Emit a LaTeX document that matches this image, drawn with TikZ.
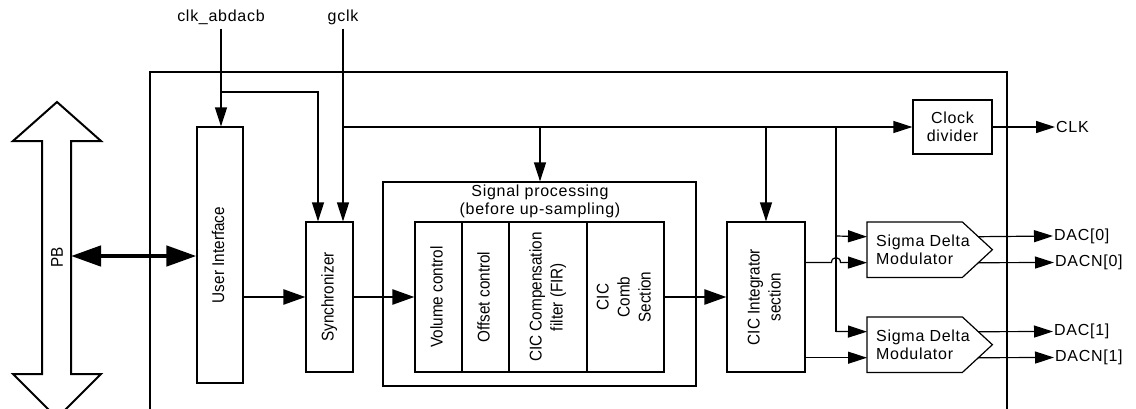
\documentclass[tikz,border=0pt]{standalone}
\usepackage{fontspec}
\setmainfont{Liberation Sans}
\newfontfamily\lspfont[LetterSpace=4.5]{Liberation Sans}
\newfontfamily\nrwfont[FakeStretch=0.9]{Liberation Sans}
\usetikzlibrary{arrows.meta}
\newcommand\vlab[1]{\rotatebox{90}{\begin{tabular}{@{}c@{}}#1\end{tabular}}}
\begin{document}
\begin{tikzpicture}[x=1pt,y=-1pt,
  thinln/.style={line width=1.2pt},
  arr/.style={thinln,-{Triangle[length=19pt,width=12pt]}},
  thkarr/.style={line width=2.5pt,-{Triangle[length=22pt,width=15pt]}},
  blk/.style={draw,line width=1.2pt,inner sep=0pt,font=\nrwfont\fontsize{17}{21}\selectfont},
  hlab/.style={font=\lspfont\fontsize{16}{18}\selectfont,align=center,inner sep=1pt},
  outlab/.style={hlab,anchor=west,inner sep=1pt},
]
\useasboundingbox (0,0) rectangle (1136,408);

% PB bus arrow
\draw[line width=2pt,line join=miter] (57,102) -- (101,141) -- (71,141) -- (71,374) -- (101,374) -- (57,418) -- (13,374) -- (42,374) -- (42,141) -- (13,141) -- cycle;
\node[font=\nrwfont\fontsize{17}{21}\selectfont,rotate=90] (pb) at (57,257) {PB};
\coordinate (pbr) at (71,256);

% outer frame
\draw[line width=2pt] (150,412) -- (150,72) -- (1007,72) -- (1007,412);

% top labels
\node[hlab] (clkab) at (221,17) {clk\_abdacb};
\node[hlab] (gclk) at (343,17) {gclk};

% blocks
\node[blk,minimum width=46pt,minimum height=256pt] (ui) at (220,255) {\vlab{User Interface}};
\node[blk,minimum width=47pt,minimum height=150pt] (sync) at (329.5,297) {\vlab{Synchronizer}};
\node[blk,minimum width=313pt,minimum height=204pt] (sp) at (539.5,284) {};
\node[hlab] (sptitle) at (540,201) {Signal processing\\(before up-sampling)};
\node[blk,minimum width=47pt,minimum height=150pt] (vol) at (438.5,297) {\vlab{Volume control}};
\node[blk,minimum width=47pt,minimum height=150pt] (off) at (485.5,297) {\vlab{Offset control}};
\node[blk,minimum width=78pt,minimum height=150pt] (fir) at (548,297) {\vlab{CIC Compensation\\filter (FIR)}};
\node[blk,minimum width=77pt,minimum height=150pt] (comb) at (625.5,297) {\vlab{CIC\\Comb\\Section}};
\node[blk,minimum width=78pt,minimum height=150pt] (cic) at (766,297) {\vlab{CIC Integrator\\section}};
\node[blk,minimum width=79pt,minimum height=54pt] (clkdiv) at (952.5,127) {};
\node[hlab] (clkdivt) at (clkdiv) {Clock\\divider};

% sigma delta modulators
\node[minimum width=95pt,minimum height=55pt,inner sep=0pt,anchor=north west] (sdm1) at (867,222) {};
\node[minimum width=95pt,minimum height=55pt,inner sep=0pt,anchor=north west] (sdm2) at (867,317) {};
\draw[thinln,line join=miter] (sdm1.north west) -- (sdm1.north east) -- ([xshift=30pt]sdm1.east) -- (sdm1.south east) -- (sdm1.south west) -- cycle;
\draw[thinln,line join=miter] (sdm2.north west) -- (sdm2.north east) -- ([xshift=30pt]sdm2.east) -- (sdm2.south east) -- (sdm2.south west) -- cycle;
\node[hlab,align=left,anchor=west,inner sep=0pt] (sdm1t) at (876,249.5) {Sigma Delta\\Modulator};
\node[hlab,align=left,anchor=west,inner sep=0pt] (sdm2t) at (876,344.5) {Sigma Delta\\Modulator};

% output labels
\node[outlab] (clko) at (1055,127) {CLK};
\node[outlab] (dac0) at (1053,236) {DAC[0]};
\node[outlab] (dacn0) at (1054,262.5) {DACN[0]};
\node[outlab] (dac1) at (1053,331.5) {DAC[1]};
\node[outlab] (dacn1) at (1054,357.5) {DACN[1]};

% branch coordinates
\coordinate (ca) at (221,92);
\coordinate (cb) at (318,92);
\coordinate (cc) at (343,127);
\coordinate (cd) at (540,127);
\coordinate (ce) at (766,127);
\coordinate (cf) at (836,127);
\coordinate (cg) at (836,236);
\coordinate (ch) at (836,331.5);
\coordinate (s1a) at ([yshift=13pt]sdm1.west);
\coordinate (s1b) at ([yshift=-13pt]sdm1.west);
\coordinate (s2a) at ([yshift=13pt]sdm2.west);
\coordinate (s2b) at ([yshift=-13pt]sdm2.west);
\coordinate (o1a) at ([xshift=15.8pt,yshift=13pt]sdm1.east);
\coordinate (o1b) at ([xshift=15.8pt,yshift=-13pt]sdm1.east);
\coordinate (o2a) at ([xshift=15.8pt,yshift=13pt]sdm2.east);
\coordinate (o2b) at ([xshift=15.8pt,yshift=-13pt]sdm2.east);
\coordinate (ja) at (831.5,262.5);
\coordinate (jb) at (840.5,262.5);

% clock connectors
\draw[arr] ([yshift=-3pt]clkab.south) -- (clkab.south |- ui.north);
\draw[arr] (ca) -- (cb) -- (cb |- sync.north);
\draw[arr] ([yshift=-3pt]gclk.south) -- (gclk.south |- sync.north);
\draw[arr] (cc) -- (clkdiv.west);
\draw[arr] (cd) -- (cd |- sp.north);
\draw[arr] (ce) -- (ce |- cic.north);
\draw[thinln] (cf) -- (ch);
\draw[arr] (cg) -- (s1a);
\draw[arr] (ch) -- (s2a);
\draw[arr] (cic.east |- ja) -- (ja) .. controls (831.5,256) and (840.5,256) .. (jb) -- (s1b);
\draw[arr] (cic.east |- s2b) -- (s2b);

% outputs
\draw[arr] (clkdiv.east) -- (clko.west);
\draw[arr] (o1a) -- (dac0.west);
\draw[arr] (o1b) -- (dacn0.west);
\draw[arr] (o2a) -- (dac1.west);
\draw[arr] (o2b) -- (dacn1.west);

% data path
\draw[line width=4.5pt,{Triangle[length=30pt,width=20pt]}-{Triangle[length=30pt,width=20pt]}] (pbr) -- (ui.west |- pbr);
\draw[thkarr] (ui.east |- sync.west) -- (sync.west);
\draw[thkarr] (sync.east) -- (vol.west);
\draw[thkarr] (comb.east) -- (cic.west);
\end{tikzpicture}
\end{document}
